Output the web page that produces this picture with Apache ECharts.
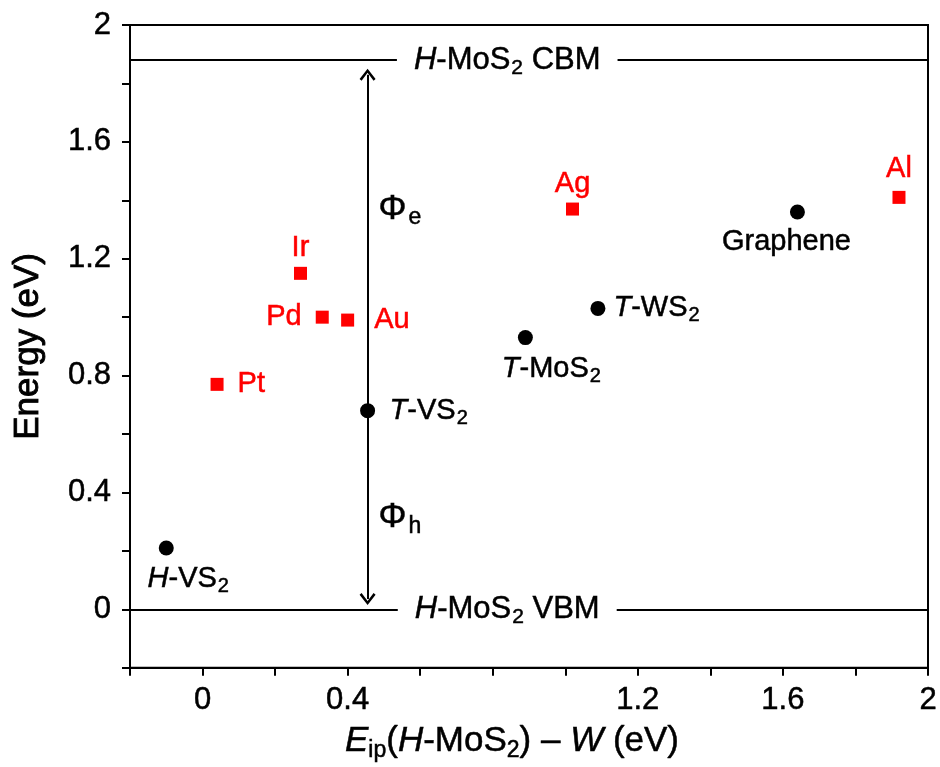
<!DOCTYPE html>
<html>
<head>
<meta charset="utf-8">
<script src="https://cdn.jsdelivr.net/npm/echarts@6/dist/echarts.min.js"></script>
<style>
  html, body { margin: 0; padding: 0; background: #fff; }
  #main { width: 940px; height: 767px; }
</style>
</head>
<body>
<div id="main"></div>
<script>
// metal electrodes (red squares)
var metalNames = ['Pt', 'Pd', 'Ir', 'Au', 'Ag', 'Al'];
var metalX = [0.04, 0.33, 0.27, 0.40, 1.02, 1.92];
var metalY = [0.77, 1.00, 1.15, 0.99, 1.37, 1.41];

// 2D electrodes (black dots)
var layerNames = ['H-VS2', 'T-VS2', 'T-MoS2', 'T-WS2', 'Graphene'];
var layerX = [-0.10, 0.455, 0.89, 1.09, 1.64];
var layerY = [0.21, 0.68, 0.93, 1.03, 1.36];

// band edges of H-MoS2
var levelNames = ['H-MoS2 CBM', 'H-MoS2 VBM'];
var levelY = [1.88, 0];

// barrier arrow + labels
var arrowX = 0.455;
var arrowEnds = [1.83, 0.035];
var phiSubs = ['e', 'h'];
var phiY = [1.37, 0.315];

var xTickLabels = [0, 0.4, 1.2, 1.6, 2];
var yTickLabels = [0, 0.4, 0.8, 1.2, 1.6, 2];

var FONT = 'Liberation Sans';
var RED = '#ff0000';
var STROKE = 0.5; // slight text thickening, the original is heavier
var levelLabelX = 0.84;

// where each label sits around its marker
var labelLayout = {
  'Pt': { position: 'right', distance: 14 },
  'Pd': { position: 'left', distance: 14 },
  'Ir': { position: 'top', distance: 4 },
  'Au': { position: 'right', distance: 20 },
  'Ag': { position: 'top', distance: 4 },
  'Al': { position: 'top', distance: 7 },
  'H-VS2': { position: 'bottom', distance: 6, offset: [22, 0] },
  'T-VS2': { position: 'right', distance: 6 },
  'T-MoS2': { position: 'bottom', distance: 6, offset: [26, 0] },
  'T-WS2': { position: 'right', distance: 8 },
  'Graphene': { position: 'bottom', distance: 8, offset: [-11, 0] }
};

// 'T-MoS2' -> italic T, subscript 2
function richName(name) {
  var out = '';
  var rest = name;
  var m = name.match(/^([A-Z])-(.*)$/);
  if (m) { out += '{i|' + m[1] + '}'; rest = '-' + m[2]; }
  rest.split(/(\d)/).forEach(function (p) {
    if (!p) return;
    out += /^\d$/.test(p) ? '{s|' + p + '}' : '{n|' + p + '}';
  });
  return out;
}

function txt(color, size, extra) {
  return Object.assign({
    fontSize: size, color: color, fontFamily: FONT,
    textBorderColor: color, textBorderWidth: STROKE
  }, extra || {});
}

function richStyles(color, size) {
  return {
    n: txt(color, size),
    i: txt(color, size, { fontStyle: 'italic' }),
    s: txt(color, Math.round(size * 0.68), { padding: [Math.round(size * 0.5), 0, 0, 1] })
  };
}

function pointItem(name, x, y, color) {
  var lay = labelLayout[name];
  return {
    name: name,
    value: [x, y],
    label: {
      show: true,
      position: lay.position,
      distance: lay.distance,
      offset: lay.offset || [0, 0],
      formatter: richName(name),
      rich: richStyles(color, 29)
    }
  };
}

var metalData = metalNames.map(function (n, i) { return pointItem(n, metalX[i], metalY[i], RED); });
var layerData = layerNames.map(function (n, i) {
  var it = pointItem(n, layerX[i], layerY[i], '#000');
  if (layerX[i] === arrowX) {
    // white halo so the arrow breaks around the dot
    it.symbolSize = 23.5;
    it.itemStyle = { color: '#000', opacity: 1, borderColor: '#fff', borderWidth: 8.5 };
  }
  return it;
});

var chevron = 'path://M10,0 L20,13 L17.5,15 L10,5 L2.5,15 L0,13 Z';

function isTick(list, v) {
  return list.some(function (t) { return Math.abs(t - v) < 1e-6; });
}

var axisCommon = {
  type: 'value',
  min: -0.2,
  max: 2,
  interval: 0.2,
  splitLine: { show: false },
  axisLine: { show: true, onZero: false, lineStyle: { color: '#000', width: 2 } },
  axisTick: { show: true, inside: false, length: 8, lineStyle: { color: '#000', width: 2 } }
};

var chart = echarts.init(document.getElementById('main'));

var option = {
  backgroundColor: '#fff',
  animation: false,
  grid: { left: 130, right: 12, top: 25, bottom: 99, show: true, borderColor: '#000', borderWidth: 2 },
  xAxis: Object.assign({}, axisCommon, {
    axisLabel: txt('#000', 31, {
      margin: 17,
      formatter: function (v) { return isTick(xTickLabels, v) ? String(+v.toFixed(1)) : ''; }
    }),
    name: '{ie|E}{s|ip}{n|(}{ie|H}{n|-MoS}{s|2}{n|) \u2013 }{ie|W}{n| (eV)}',
    nameLocation: 'middle',
    nameGap: 54,
    nameTextStyle: {
      padding: [0, 34, 0, 0],
      rich: {
        n: txt('#000', 35),
        ie: txt('#000', 35, { fontStyle: 'italic' }),
        s: txt('#000', 23, { padding: [17, 0, 0, 0] })
      }
    }
  }),
  yAxis: Object.assign({}, axisCommon, {
    axisLabel: txt('#000', 31, {
      margin: 19,
      formatter: function (v) { return isTick(yTickLabels, v) ? String(+v.toFixed(1)) : ''; }
    }),
    name: 'Energy (eV)',
    nameLocation: 'middle',
    nameGap: 84,
    nameTextStyle: txt('#000', 35, { textBorderWidth: 0.9 })
  }),
  series: [
    {
      name: 'levels',
      type: 'line',
      data: [],
      z: 1,
      markLine: {
        silent: true,
        symbol: 'none',
        label: { show: false },
        lineStyle: { color: '#000', width: 2, type: 'solid', opacity: 1 },
        data: levelY.map(function (y) { return { yAxis: y }; })
      }
    },
    {
      name: 'arrow',
      type: 'line',
      data: [],
      z: 2,
      markLine: {
        silent: true,
        symbol: [chevron, chevron],
        symbolSize: [16, 12],
        label: { show: false },
        lineStyle: { color: '#000', width: 2, type: 'solid', opacity: 1 },
        itemStyle: { color: '#000', opacity: 1 },
        data: [[{ coord: [arrowX, arrowEnds[0]] }, { coord: [arrowX, arrowEnds[1]] }]]
      }
    },
    {
      name: 'levelLabels',
      type: 'scatter',
      z: 5,
      symbolSize: 0,
      silent: true,
      itemStyle: { opacity: 1 },
      data: levelNames.map(function (n, i) {
        return {
          value: [levelLabelX, levelY[i]],
          label: {
            show: true,
            position: 'inside',
            backgroundColor: '#fff',
            padding: [0, 17],
            formatter: richName(n),
            rich: richStyles('#000', 31)
          }
        };
      })
    },
    {
      name: 'phi',
      type: 'scatter',
      z: 5,
      symbolSize: 0,
      silent: true,
      itemStyle: { opacity: 1 },
      data: phiSubs.map(function (s, i) {
        return {
          value: [arrowX, phiY[i]],
          label: {
            show: true,
            position: 'right',
            distance: 11,
            formatter: '{p|\u03a6}{s|' + s + '}',
            rich: {
              p: txt('#000', 35),
              s: txt('#000', 23, { padding: [18, 0, 0, 2] })
            }
          }
        };
      })
    },
    {
      name: 'metals',
      type: 'scatter',
      z: 4,
      symbol: 'rect',
      symbolSize: 13,
      itemStyle: { color: RED, opacity: 1 },
      data: metalData
    },
    {
      name: '2D',
      type: 'scatter',
      z: 4,
      symbol: 'circle',
      symbolSize: 15,
      itemStyle: { color: '#000', opacity: 1 },
      data: layerData
    }
  ]
};

chart.setOption(option);
</script>
</body>
</html>
